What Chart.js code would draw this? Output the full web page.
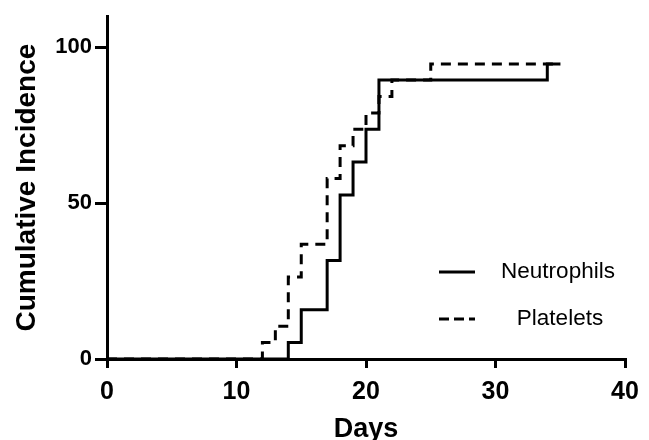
<!DOCTYPE html>
<html>
<head>
<meta charset="utf-8">
<script src="https://cdn.jsdelivr.net/npm/chart.js@4/dist/chart.umd.min.js"></script>
<style>
  html, body { margin: 0; padding: 0; background: #fff; }
  #wrap { width: 649px; height: 440px; }
</style>
</head>
<body>
<div id="wrap"><canvas id="incidenceChart"></canvas></div>
<script>
// Cumulative incidence (%) by day, Kaplan-Meier style steps
const neutrophilDays = [0, 14, 15, 17, 18, 19, 20, 21, 34, 35];
const neutrophilValues = [0, 5.3, 15.8, 31.6, 52.6, 63.2, 73.7, 89.5, 94.7, 94.7];
const plateletDays = [0, 12, 13, 14, 15, 17, 18, 19, 20, 21, 22, 25, 35];
const plateletValues = [0, 5.3, 10.5, 26.3, 36.8, 57.9, 68.4, 73.7, 78.9, 84.2, 89.5, 94.7, 94.7];
const seriesLabels = ['Neutrophils', 'Platelets'];
const yTicks = [0, 50, 100];

const FONT = '"Liberation Sans", Arial, Helvetica, sans-serif';

function toPoints(days, values) {
    return days.map((d, i) => ({ x: d, y: values[i] }));
}

/**
 * Legend drawn inside the plot, lower right
 */
const insideLegend = {
    id: 'insideLegend',
    afterDraw(chart) {
        const ctx = chart.ctx;
        const rows = [
            { text: seriesLabels[0], dash: [], y: 272, tx: 558 },
            { text: seriesLabels[1], dash: [10, 5], y: 319, tx: 560 }
        ];
        ctx.save();
        ctx.strokeStyle = '#000';
        ctx.fillStyle = '#000';
        ctx.lineWidth = 3;
        ctx.font = '22.5px ' + FONT;
        ctx.textAlign = 'center';
        ctx.textBaseline = 'middle';
        rows.forEach(r => {
            ctx.setLineDash(r.dash);
            ctx.beginPath();
            ctx.moveTo(439, r.y);
            ctx.lineTo(475, r.y);
            ctx.stroke();
            ctx.fillText(r.text, r.tx, r.y);
        });
        ctx.restore();
    }
};

function initChart() {
    const ctx = document.getElementById('incidenceChart').getContext('2d');

    new Chart(ctx, {
        type: 'line',
        data: {
            datasets: [
                {
                    label: seriesLabels[1],
                    data: toPoints(plateletDays, plateletValues),
                    borderColor: '#000',
                    borderWidth: 3,
                    borderDash: [10, 7],
                    stepped: 'before',
                    pointRadius: 0,
                    fill: false
                },
                {
                    label: seriesLabels[0],
                    data: toPoints(neutrophilDays, neutrophilValues),
                    borderColor: '#000',
                    borderWidth: 3,
                    stepped: 'before',
                    pointRadius: 0,
                    fill: false
                }
            ]
        },
        options: {
            responsive: true,
            maintainAspectRatio: false,
            animation: false,
            layout: {
                padding: { left: 0, right: 24, top: 15, bottom: 0 }
            },
            plugins: {
                legend: { display: false },
                tooltip: { enabled: false }
            },
            scales: {
                x: {
                    type: 'linear',
                    min: 0,
                    max: 40,
                    border: { display: true, color: '#000', width: 3 },
                    grid: { drawOnChartArea: false, color: '#000', lineWidth: 3, tickLength: 9 },
                    ticks: {
                        stepSize: 10,
                        color: '#000',
                        padding: 9,
                        font: { family: FONT, size: 25, weight: 'bold' }
                    },
                    title: {
                        display: true,
                        text: 'Days',
                        color: '#000',
                        padding: { top: 0, bottom: 0 },
                        font: { family: FONT, size: 27, weight: 'bold', lineHeight: 0.8 }
                    },
                    afterFit(scale) { scale.height = 81; }
                },
                y: {
                    min: 0,
                    max: 110,
                    border: { display: true, color: '#000', width: 3 },
                    grid: { drawOnChartArea: false, color: '#000', lineWidth: 3, tickLength: 12 },
                    ticks: {
                        color: '#000',
                        padding: 3,
                        font: { family: FONT, size: 22, weight: 'bold' }
                    },
                    afterBuildTicks(scale) {
                        scale.ticks = yTicks.map(v => ({ value: v }));
                    },
                    title: {
                        display: true,
                        text: 'Cumulative Incidence',
                        color: '#000',
                        padding: { top: 10, bottom: 0 },
                        font: { family: FONT, size: 28, weight: 'bold' }
                    },
                    afterFit(scale) { scale.width = 107; }
                }
            }
        },
        plugins: [insideLegend]
    });
}

document.addEventListener('DOMContentLoaded', initChart);
</script>
</body>
</html>
